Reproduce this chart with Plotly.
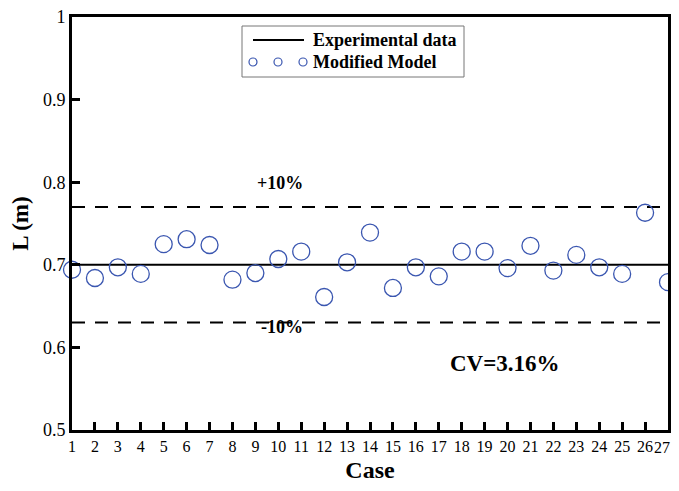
import plotly.graph_objects as go

cases = list(range(1, 28))
model_values = [0.694, 0.684, 0.697, 0.689, 0.725, 0.731, 0.724, 0.682, 0.690, 0.707,
                0.716, 0.661, 0.703, 0.739, 0.672, 0.697, 0.686, 0.716, 0.716, 0.696,
                0.723, 0.693, 0.712, 0.697, 0.689, 0.763, 0.679]
experimental_x = [1, 27]
experimental_values = [0.70, 0.70]
upper_bound = [0.77, 0.77]
lower_bound = [0.63, 0.63]
y_ticks = [0.5, 0.6, 0.7, 0.8, 0.9, 1.0]
y_tick_labels = ["0.5", "0.6", "0.7", "0.8", "0.9", "1"]
x_tick_labels = [str(c) for c in cases]

FONT = "Liberation Serif, serif"
blue = "#3a56b0"

# page body has an 8px margin; figure sized so plot area lands where the reference has it
OFF = 8
W, H = 679 - 2 * OFF, 491 - 2 * OFF
L, R, T, B = 72, 668, 17, 430  # plot area in page pixels


def px(x):
    return (x - L) / (R - L)


def py(y):
    return (B - y) / (B - T)


fig = go.Figure()
fig.add_trace(go.Scatter(x=experimental_x, y=upper_bound, mode="lines",
                         line=dict(color="black", width=2, dash="13px,10px"),
                         showlegend=False, hoverinfo="skip"))
fig.add_trace(go.Scatter(x=experimental_x, y=lower_bound, mode="lines",
                         line=dict(color="black", width=2, dash="13px,10px"),
                         showlegend=False, hoverinfo="skip"))
fig.add_trace(go.Scatter(x=experimental_x, y=experimental_values, mode="lines",
                         name="Experimental data", showlegend=False,
                         line=dict(color="black", width=2)))
fig.add_trace(go.Scatter(x=cases, y=model_values, mode="markers",
                         name="Modified Model", cliponaxis=False, showlegend=False,
                         marker=dict(symbol="circle-open", size=17, color=blue,
                                     line=dict(width=1.3, color=blue))))

for txt, ax, ay, sz in [("<b>+10%</b>", 280, 183, 18), ("<b>-10%</b>", 282, 339, 18),
                        ("<b>CV=3.16%</b>", 562, 378, 23)]:
    fig.add_annotation(x=px(ax), y=py(ay), xref="paper", yref="paper", text=txt, showarrow=False,
                       font=dict(family=FONT, size=sz, color="black"))

# last x tick label drawn as annotation so it stays inside the page
fig.add_annotation(x=px(672), y=py(447), xref="paper", yref="paper", text=x_tick_labels[-1],
                   showarrow=False, xanchor="right", yanchor="middle",
                   font=dict(family=FONT, size=16, color="black"))

# custom legend
fig.add_shape(type="rect", xref="paper", yref="paper",
              x0=px(242), x1=px(464), y0=py(77), y1=py(26),
              line=dict(color="#777", width=1), fillcolor="white", layer="above")
fig.add_shape(type="line", xref="paper", yref="paper",
              x0=px(253), x1=px(304), y0=py(40), y1=py(40),
              line=dict(color="black", width=2), layer="above")
for cx in (253, 278, 303):
    fig.add_shape(type="circle", xref="paper", yref="paper",
                  x0=px(cx - 4), x1=px(cx + 4), y0=py(66), y1=py(58),
                  line=dict(color=blue, width=1.2), layer="above")
for txt, ty in [("<b>Experimental data</b>", 40), ("<b>Modified Model</b>", 62)]:
    fig.add_annotation(x=px(311), y=py(ty), xref="paper", yref="paper", text=txt,
                       showarrow=False, xanchor="left", yanchor="middle",
                       font=dict(family=FONT, size=18, color="black"))

fig.update_layout(
    width=W, height=H,
    margin=dict(l=L - OFF, r=W - (R - OFF), t=T - OFF, b=H - (B - OFF)),
    plot_bgcolor="white", paper_bgcolor="white",
    font=dict(family=FONT, color="black", size=16),
    showlegend=False,
)
fig.update_xaxes(range=[1, 27], tickmode="array", tickvals=cases,
                 ticktext=x_tick_labels[:-1] + [""], automargin=False,
                 ticklabeloverflow="allow",
                 ticks="inside", ticklen=8, tickwidth=3, tickcolor="black",
                 showline=True, linewidth=3, linecolor="black", mirror=True,
                 showgrid=False, zeroline=False,
                 title=dict(text="<b>Case</b>", font=dict(family=FONT, size=24), standoff=26),
                 tickfont=dict(family=FONT, size=16))
fig.update_yaxes(range=[0.5, 1.0], tickmode="array", tickvals=y_ticks, ticktext=y_tick_labels,
                 automargin=False, ticklabeloverflow="allow",
                 ticks="inside", ticklen=8, tickwidth=3, tickcolor="black",
                 showline=True, linewidth=3, linecolor="black", mirror=True,
                 showgrid=False, zeroline=False,
                 title=dict(text="<b>L (m)</b>", font=dict(family=FONT, size=23), standoff=8),
                 tickfont=dict(family=FONT, size=18))

fig.write_html("out.html")
